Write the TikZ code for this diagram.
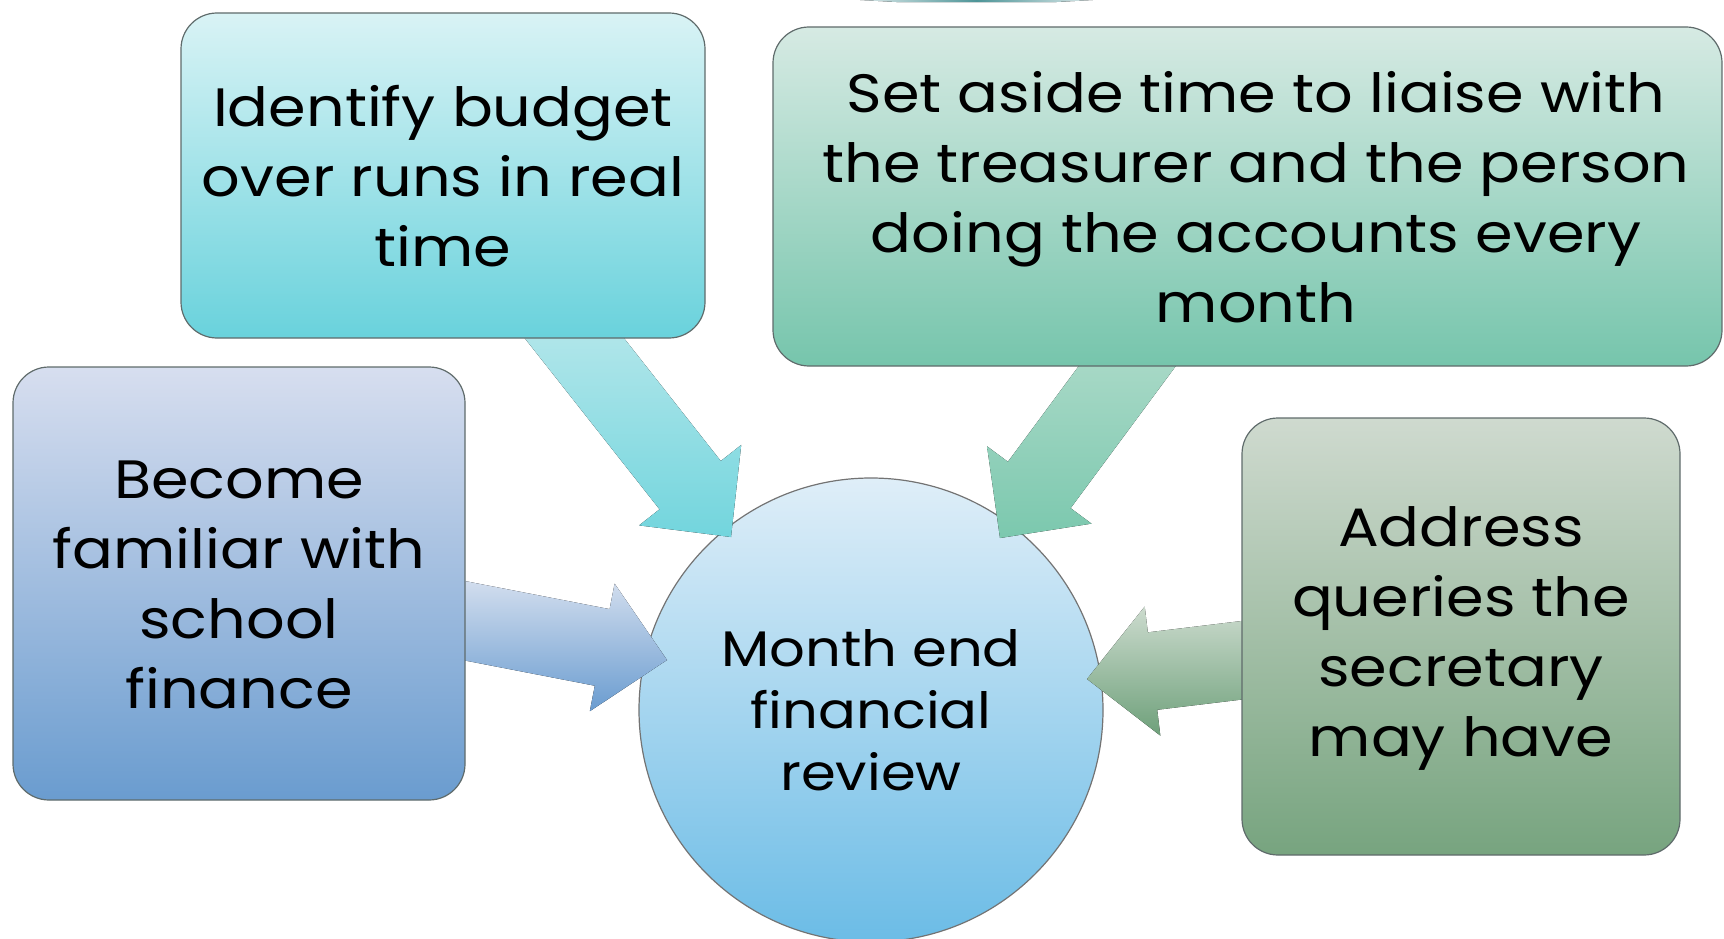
\documentclass[tikz,border=0pt]{standalone}
\usepackage{fontspec}
\setmainfont[FakeStretch=1.12]{Poppins}
\usetikzlibrary{calc}
\definecolor{bxAtop}{HTML}{D9F3F5}\definecolor{bxAbot}{HTML}{69D2DC}
\definecolor{bxBtop}{HTML}{D6EAE3}\definecolor{bxBbot}{HTML}{76C5AC}
\definecolor{bxCtop}{HTML}{D7DEEF}\definecolor{bxCbot}{HTML}{6A9CCF}
\definecolor{bxDtop}{HTML}{CFDACF}\definecolor{bxDbot}{HTML}{77A47F}
\definecolor{ctop}{HTML}{DFEEF8}\definecolor{cbot}{HTML}{6BBCE6}
\definecolor{arAtop}{HTML}{C0EAED}\definecolor{arAbot}{HTML}{72D5DD}
\definecolor{arBtop}{HTML}{B4DDCD}\definecolor{arBbot}{HTML}{7BC8AE}
\definecolor{arCtop}{HTML}{D6E0EF}\definecolor{arCbot}{HTML}{6A9CD0}
\definecolor{arDtop}{HTML}{CCDBCE}\definecolor{arDbot}{HTML}{6EA07A}
\definecolor{edge}{HTML}{5F6B6B}
\definecolor{sliverend}{HTML}{DCE9EA}\definecolor{slivermid}{HTML}{4E9598}
\newcommand\blockarrow[4]{%
  \coordinate (#1b) at ($(#2)!66pt!(#1)$);
  \fill[top color=#3,bottom color=#4]
    ($(#1)!39pt!90:(#2)$) -- ($(#1b)!39pt!90:(#2)$) -- ($(#1b)!65pt!90:(#2)$) --
    (#2) -- ($(#1b)!65pt!-90:(#2)$) -- ($(#1b)!39pt!-90:(#2)$) --
    ($(#1)!39pt!-90:(#2)$) -- cycle;}
\begin{document}
\begin{tikzpicture}[x=1pt,y=-1pt,
  box/.style={draw=edge,line width=1.2pt,rounded corners=36pt},
  boxtext/.style={align=center,font=\fontsize{54}{70}\selectfont},
  circ/.style={circle,draw=gray!90!black,line width=1.2pt,minimum size=464pt,inner sep=0pt,
    top color=ctop,bottom color=cbot,align=center,font=\fontsize{50}{62}\selectfont}]
\useasboundingbox (0,0) rectangle (1724,939);
% sliver at the top
\fill[left color=sliverend,right color=sliverend,middle color=slivermid]
  (860,0) .. controls (880,2) .. (900,2.2) -- (1053,2.2) .. controls (1073,2) .. (1093,0) -- cycle;
% centre circle
\node[circ] (c) at (871,710) {Month end\\financial\\review};
% arrows
\coordinate (sA) at (549,306); \coordinate (tA) at (731,537);
\coordinate (sB) at (1151,334); \coordinate (tB) at (1000,538);
\coordinate (sC) at (430,614); \coordinate (tC) at (667,660);
\coordinate (sD) at (1277,656); \coordinate (tD) at (1087,679);
\blockarrow{sA}{tA}{arAtop}{arAbot}
\blockarrow{sB}{tB}{arBtop}{arBbot}
\blockarrow{sC}{tC}{arCtop}{arCbot}
\blockarrow{sD}{tD}{arDtop}{arDbot}
% boxes
\path[box,top color=bxAtop,bottom color=bxAbot] (181,13) rectangle (705,338);
\node[boxtext] (b1) at (443,176) {Identify budget\\over runs in real\\time};
\path[box,top color=bxBtop,bottom color=bxBbot] (773,27) rectangle (1722,366);
\node[boxtext] (b2) at (1256,197) {Set aside time to liaise with\\the treasurer and the person\\doing the accounts every\\month};
\path[box,top color=bxCtop,bottom color=bxCbot] (13,367) rectangle (465,800);
\node[boxtext] (b3) at (239,585) {Become\\familiar with\\school\\finance};
\path[box,top color=bxDtop,bottom color=bxDbot] (1242,418) rectangle (1680,855);
\node[boxtext] (b4) at (1461,638) {Address\\queries the\\secretary\\may have};
\end{tikzpicture}
\end{document}
